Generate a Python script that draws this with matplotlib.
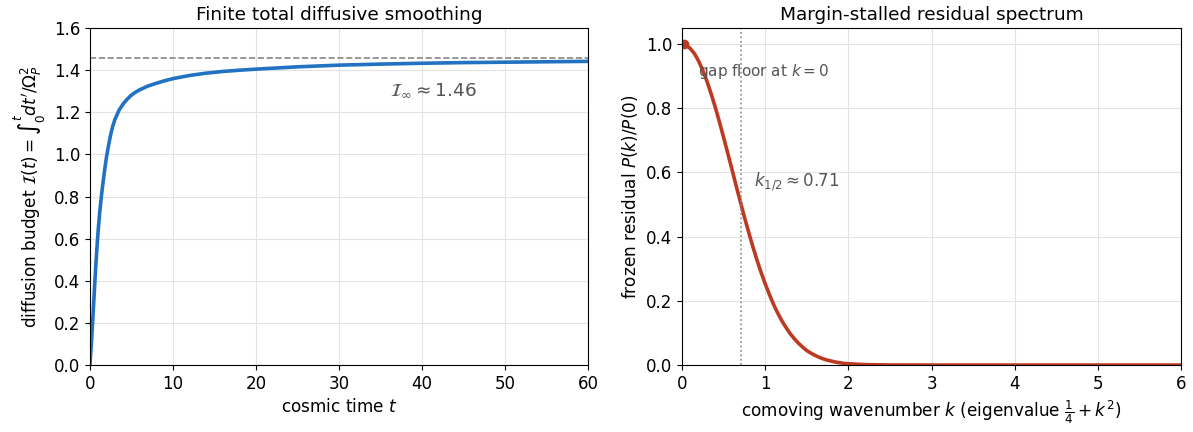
import numpy as np
import matplotlib
matplotlib.use("Agg")
import matplotlib.pyplot as plt

# --- data ---
# left: cumulative diffusion budget I(t)
t_vals = [0, 0.1, 0.2, 0.3, 0.4, 0.5, 0.6, 0.7, 0.8, 0.9, 1.0, 1.2, 1.4, 1.6, 1.8,
          2.0, 2.25, 2.5, 2.75, 3.0, 3.5, 4.0, 4.5, 5.0, 5.5, 6.0, 7.0, 8.0, 9.0, 10,
          12, 14, 16, 18, 20, 25, 30, 35, 40, 45, 50, 55, 60]
I_vals = [0, 0.06, 0.12, 0.19, 0.26, 0.33, 0.40, 0.47, 0.53, 0.59, 0.645, 0.735, 0.81,
          0.875, 0.935, 0.99, 1.045, 1.095, 1.135, 1.165, 1.21, 1.24, 1.263, 1.282,
          1.296, 1.307, 1.325, 1.338, 1.350, 1.360, 1.375, 1.386, 1.394, 1.40, 1.405,
          1.416, 1.424, 1.429, 1.433, 1.436, 1.438, 1.440, 1.442]
I_inf = 1.46

# right: frozen residual spectrum P(k)/P(0)
k_vals = [0, 0.05, 0.10, 0.15, 0.20, 0.25, 0.30, 0.35, 0.40, 0.45, 0.50, 0.55, 0.60,
          0.65, 0.70, 0.75, 0.80, 0.85, 0.90, 0.95, 1.00, 1.05, 1.10, 1.15, 1.20,
          1.25, 1.30, 1.35, 1.40, 1.45, 1.50, 1.55, 1.60, 1.65, 1.70, 1.75, 1.80,
          1.85, 1.90, 1.95, 2.00, 2.2, 2.5, 3.0, 4.0, 5.0, 6.0]
P_vals = [1.0, 0.997, 0.986, 0.970, 0.947, 0.918, 0.884, 0.845, 0.803, 0.757, 0.709,
          0.660, 0.610, 0.559, 0.510, 0.461, 0.415, 0.370, 0.328, 0.289, 0.253,
          0.220, 0.189, 0.162, 0.138, 0.117, 0.098, 0.082, 0.068, 0.056, 0.045,
          0.037, 0.030, 0.024, 0.019, 0.015, 0.012, 0.009, 0.007, 0.005, 0.004,
          0.0013, 0.0002, 0.0, 0.0, 0.0, 0.0]
k_half = 0.71

blue = "#2272c3"
red = "#bd3a22"
grey_txt = "#555555"

fig = plt.figure(figsize=(11.93, 4.32), dpi=100)
ax1 = fig.add_axes([0.0754, 0.155, 0.4176, 0.780])
ax2 = fig.add_axes([0.5717, 0.155, 0.4183, 0.780])

# left panel
ax1.plot(t_vals, I_vals, color=blue, lw=2.6)
ax1.axhline(I_inf, color="#888888", ls="--", lw=1.2)
ax1.text(36.1, 1.305, r"$\mathcal{I}_\infty \approx 1.46$", fontsize=13.3,
         color=grey_txt, va="center")
ax1.set_xlim(0, 60)
ax1.set_ylim(0, 1.6)
ax1.set_title("Finite total diffusive smoothing", fontsize=13.3)
ax1.set_xlabel(r"cosmic time $t$", fontsize=12.2)
ax1.set_ylabel(r"diffusion budget $\mathcal{I}(t) = \int_0^t dt'/\Omega_P^2$", fontsize=12.2)

# right panel
ax2.plot(k_vals, P_vals, color=red, lw=2.6)
ax2.plot([0.02], [P_vals[0]], "o", color=red, ms=6)
ax2.axvline(k_half, color="#888888", ls=":", lw=1.2)
ax2.text(0.19, 0.915, r"gap floor at $k = 0$", fontsize=11, color=grey_txt, va="center")
ax2.text(0.86, 0.57, r"$k_{1/2} \approx 0.71$", fontsize=12, color=grey_txt, va="center")
ax2.set_xlim(0, 6)
ax2.set_ylim(0, 1.05)
ax2.set_title("Margin-stalled residual spectrum", fontsize=13.3)
ax2.set_xlabel(r"comoving wavenumber $k$ (eigenvalue $\frac{1}{4} + k^2$)", fontsize=12.2)
ax2.set_ylabel(r"frozen residual $P(k)/P(0)$", fontsize=12.2)

for ax in (ax1, ax2):
    ax.grid(True, color="#e3e3e3", lw=0.8)
    ax.tick_params(labelsize=12)

fig.savefig("out.png", dpi=100)
